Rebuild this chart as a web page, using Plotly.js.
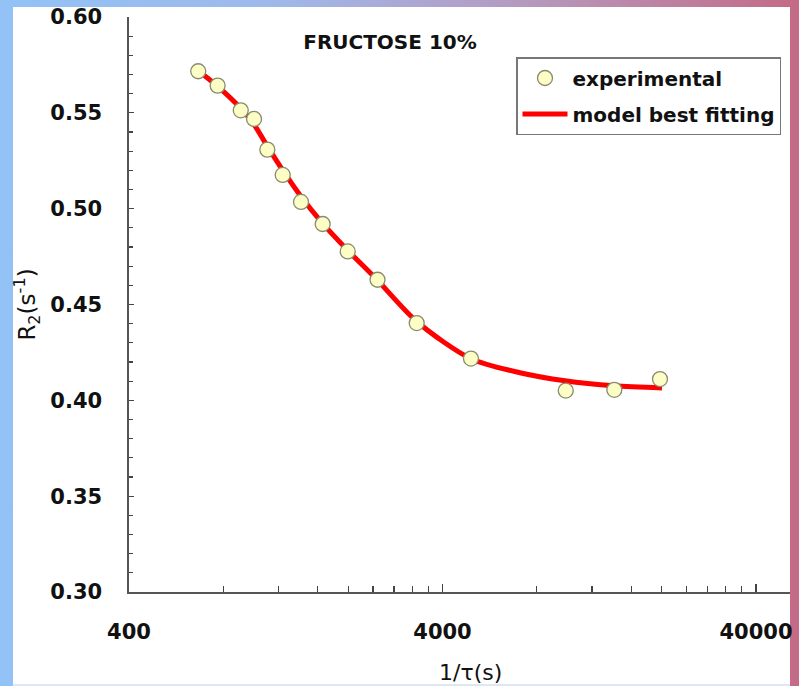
<!DOCTYPE html>
<html>
<head>
<meta charset="utf-8">
<script src="https://cdn.plot.ly/plotly-3.0.1.min.js"></script>
<style>
  html, body { margin: 0; padding: 0; }
  #frame {
    position: relative; width: 799px; height: 686px; overflow: hidden;
    background: linear-gradient(to right, #92c2f6 0%, #9fb8ea 35%, #b59ac0 65%, #c46a86 100%);
  }
  #sheet {
    position: absolute; left: 13px; top: 7px; width: 777px; height: 677px;
    background: #ffffff;
  }
  #bottomline {
    position: absolute; left: 13px; top: 684px; width: 777px; height: 2px;
    background: #dce8f6;
  }
  #chart { position: absolute; left: 0; top: 0; width: 799px; height: 686px; }
</style>
</head>
<body>
<div id="frame">
  <div id="sheet"></div>
  <div id="bottomline"></div>
  <div id="chart"></div>
</div>
<script>
// Experimental points (1/tau in s, R2 in s^-1)
const expX = [665, 767, 909, 1002, 1105, 1237, 1415, 1659, 1994, 2482, 3310, 4930, 9890, 14130, 19760];
const expY = [0.5717, 0.5642, 0.5513, 0.5468, 0.5308, 0.5176, 0.5035, 0.4920, 0.4777, 0.4629, 0.4403, 0.4218, 0.4051, 0.4055, 0.4111];

// Model best fitting curve
const fitX = [689, 769, 911, 1002, 1102, 1240, 1415, 1650, 1998, 2473, 3316, 4931, 7067, 9833, 14100, 20050];
const fitY = [0.5700, 0.5637, 0.5522, 0.5439, 0.5329, 0.5198, 0.5063, 0.4927, 0.4781, 0.4629, 0.4410, 0.4217, 0.4144, 0.4102, 0.4076, 0.4065];

// Axis ticks
const xTickVals = [400, 4000, 40000];
const xTickText = ['400', '4000', '40000'];
const xMinorVals = [800, 1200, 1600, 2000, 2400, 2800, 3200, 3600, 8000, 12000, 16000, 20000, 24000, 28000, 32000, 36000];
const yTickVals = [0.30, 0.35, 0.40, 0.45, 0.50, 0.55, 0.60];
const yTickText = ['0.30', '0.35', '0.40', '0.45', '0.50', '0.55', '0.60'];

const FONT = 'DejaVu Sans';

const traces = [
  {
    x: fitX, y: fitY, type: 'scatter', mode: 'lines',
    name: 'model best fitting',
    line: { color: '#ff0000', width: 5, shape: 'spline', smoothing: 0.8 },
    legendgroup: 'b', legendrank: 2
  },
  {
    x: expX, y: expY, type: 'scatter', mode: 'markers',
    name: 'experimental',
    marker: { symbol: 'circle', size: 15, color: '#fdfdc6', line: { color: '#8a8a6e', width: 1.3 } },
    legendgroup: 'a', legendrank: 1
  }
];

const layout = {
  width: 799, height: 686,
  paper_bgcolor: 'rgba(0,0,0,0)',
  plot_bgcolor: 'rgba(0,0,0,0)',
  margin: { l: 129, r: 9, t: 17, b: 94 },
  showlegend: true,
  title: {
    text: '<b>FRUCTOSE 10%</b>',
    x: 390 / 799, xanchor: 'center',
    y: 1 - 42 / 686, yanchor: 'middle',
    font: { family: FONT, size: 20, color: '#111111' }
  },
  legend: {
    x: (516 - 129) / 661, xanchor: 'left',
    y: (592 - 57) / 575, yanchor: 'top',
    bgcolor: '#ffffff', bordercolor: '#777777', borderwidth: 1.5,
    font: { family: FONT, size: 20, color: '#111111', weight: 'bold' },
    traceorder: 'grouped', tracegroupgap: 7,
    itemwidth: 45
  },
  annotations: [
    {
      text: '1/τ(s)', xref: 'paper', yref: 'paper',
      x: (471 - 129) / 661, xanchor: 'center',
      y: -(672 - 592) / 575, yanchor: 'middle',
      showarrow: false,
      font: { family: FONT, size: 22, color: '#111111' }
    }
  ],
  xaxis: {
    type: 'log',
    range: [Math.log10(400), Math.log10(400) + 661 / 313.5],
    tickmode: 'array', tickvals: xTickVals, ticktext: xTickText,
    ticks: 'inside', ticklen: 8, tickwidth: 1.3, tickcolor: '#444444',
    ticklabelstandoff: 20,
    minor: { tickmode: 'array', tickvals: xMinorVals, ticks: 'inside', ticklen: 6, tickwidth: 1.2, tickcolor: '#444444', showgrid: false },
    showline: true, linecolor: '#555555', linewidth: 1.6,
    showgrid: false, zeroline: false,
    tickfont: { family: FONT, size: 21, color: '#111111', weight: 'bold' },
    automargin: false, fixedrange: true
  },
  yaxis: {
    range: [0.30, 0.60],
    tickmode: 'array', tickvals: yTickVals, ticktext: yTickText,
    ticks: 'inside', ticklen: 5, tickwidth: 1.3, tickcolor: '#444444',
    ticklabelstandoff: 21,
    minor: { dtick: 0.01, ticks: 'inside', ticklen: 4, tickwidth: 1.1, tickcolor: '#444444', showgrid: false },
    showline: true, linecolor: '#555555', linewidth: 1.6,
    showgrid: false, zeroline: false,
    tickfont: { family: FONT, size: 21, color: '#111111', weight: 'bold' },
    title: { text: 'R<sub>2</sub>(s<sup>-1</sup>)', standoff: 8, font: { family: FONT, size: 23, color: '#111111' } },
    automargin: false, fixedrange: true
  }
};

Plotly.newPlot('chart', traces, layout, { displayModeBar: false, staticPlot: true });
</script>
</body>
</html>
